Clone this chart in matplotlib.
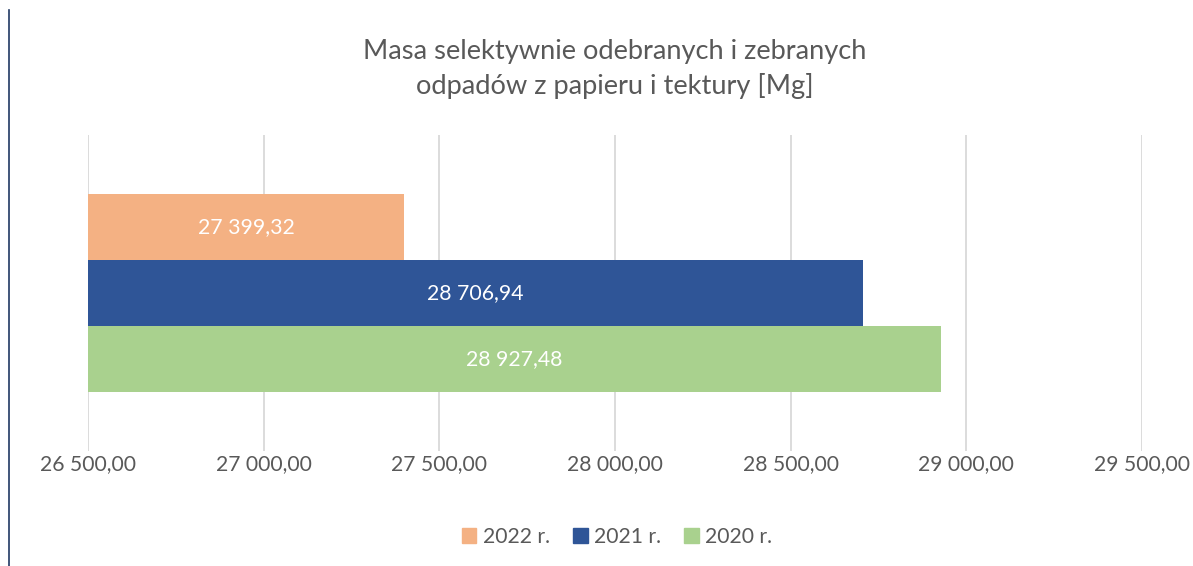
import matplotlib.pyplot as plt
from matplotlib.patches import Patch
from matplotlib.lines import Line2D

years = ["2020 r.", "2021 r.", "2022 r."]
values = [28927.48, 28706.94, 27399.32]
colors = ["#A9D18E", "#2F5597", "#F4B183"]
x_ticks = [26500, 27000, 27500, 28000, 28500, 29000, 29500]

title = "Masa selektywnie odebranych i zebranych\nodpadów z papieru i tektury [Mg]"


def pl_fmt(v):
    s = "{:,.2f}".format(v)
    return s.replace(",", " ").replace(".", ",")


plt.rcParams['font.family'] = ['Lato', 'DejaVu Sans']

fig = plt.figure(figsize=(11.93, 5.66), dpi=100)
ax = fig.add_axes([88 / 1193, 1 - 451 / 566, (1142 - 88) / 1193, (451 - 135) / 566])

base = x_ticks[0]
for i in range(len(years)):
    ax.barh(i, values[i] - base, left=base, height=1.0, color=colors[i], zorder=3)
    ax.text((base + values[i]) / 2, i, pl_fmt(values[i]), ha='center', va='center',
            color='white', fontsize=15.3, zorder=4)

ax.set_xlim(x_ticks[0], x_ticks[-1])
ax.set_ylim(-1.39, 3.39)
ax.set_xticks(x_ticks)
ax.set_xticklabels([pl_fmt(t) for t in x_ticks], fontsize=15.2, color='#595959')
ax.set_yticks([])
ax.tick_params(axis='x', length=0, pad=2)
ax.grid(axis='x', color='#D9D9D9', linewidth=1.3, zorder=0)
for sp in ax.spines.values():
    sp.set_visible(False)

fig.text(615 / 1193, 1 - 69 / 566, title, ha='center', va='center', fontsize=19.6,
         color='#595959', linespacing=1.4)

handles = [Patch(color=colors[2]), Patch(color=colors[1]), Patch(color=colors[0])]
leg = fig.legend(handles, [years[2], years[1], years[0]], loc='center',
                 bbox_to_anchor=(617 / 1193, 1 - 537 / 566), ncol=3, frameon=False,
                 fontsize=15.2, handlelength=0.7, handleheight=0.7, handletextpad=0.3,
                 columnspacing=1.1)
for t in leg.get_texts():
    t.set_color('#595959')

fig.add_artist(Line2D([9 / 1193, 9 / 1193], [0, 1 - 10 / 566], color='#203864',
                      linewidth=1.2, transform=fig.transFigure))

fig.savefig("out.png", dpi=100)
